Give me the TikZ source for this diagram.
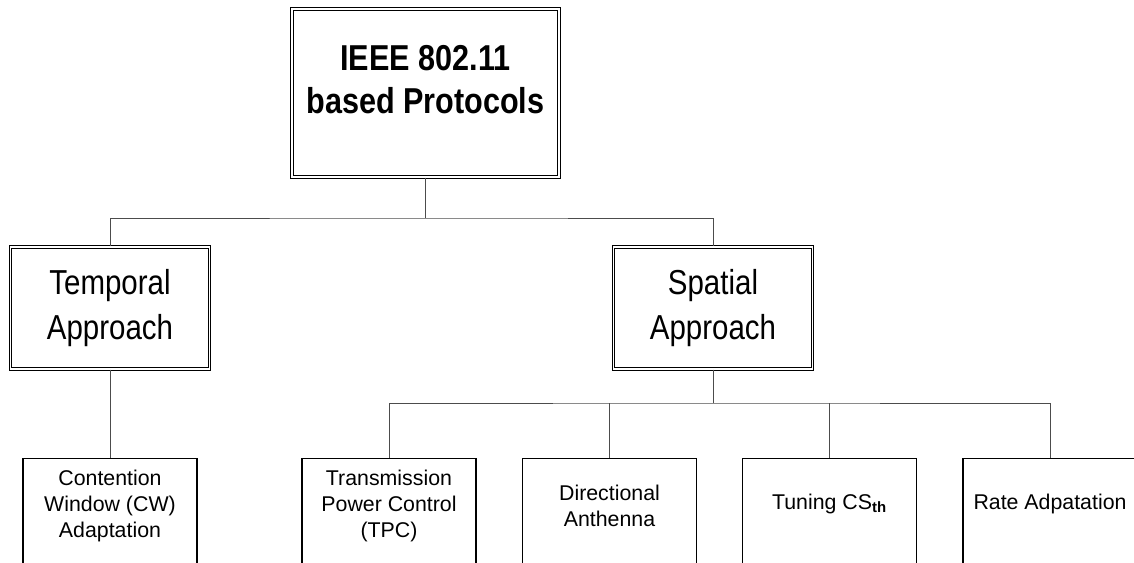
\documentclass[tikz,border=0pt]{standalone}
\usepackage{fontspec}
\setmainfont{Liberation Sans}
\newfontfamily\narrowfont[FakeStretch=0.85]{Liberation Sans}
\usepackage{tikz}
\usetikzlibrary{positioning}
\tikzset{
  dbox/.style={draw, line width=0.8pt, double=white, double distance=1pt, align=center},
  rootbox/.style={dbox, minimum width=200.25pt, minimum height=126pt, text depth=20pt, font=\narrowfont\bfseries\fontsize{27}{32}\selectfont},
  appbox/.style={dbox, minimum width=149.25pt, minimum height=91.5pt, font=\narrowfont\fontsize{26}{34}\selectfont},
  leafbox/.style={draw, line width=1pt, anchor=north, minimum width=130.5pt, minimum height=112.5pt},
  leaftxt/.style={align=center, font=\fontsize{16}{19.5}\selectfont},
  link/.style={draw=black!70, line width=0.6pt},
}

\begin{document}
\begin{tikzpicture}[x=0.75pt, y=-0.75pt]
\useasboundingbox (0,0) rectangle (1134,563);
\clip (0,0) rectangle (1134,563);
\node[rootbox] (top) at (425.5,93) {IEEE 802.11\\based Protocols};
\node[appbox] (tmp) at (110,308) {Temporal\\Approach};
\node[appbox] (spa) at (713,308) {Spatial\\Approach};
\node[leafbox] (cw) at (110,458) {};
\node[leafbox] (tpc) at (389,458) {};
\node[leafbox] (dir) at (609.5,458) {};
\node[leafbox] (tun) at (829.5,458) {};
\node[leafbox] (rate) at (1050,458) {};
\node[leaftxt] (cwt) at (110,506) {Contention\\Window (CW)\\Adaptation};
\node[leaftxt] (tpct) at (389,506) {Transmission\\Power Control\\(TPC)};
\node[leaftxt] (dirt) at (609.5,506) {Directional\\Anthenna};
\node[leaftxt] (tunt) at (829.5,504) {Tuning CS\textsubscript{\bfseries th}};
\node[leaftxt] (ratet) at (1050,504) {Rate Adpatation};
\coordinate (j1) at (425.5,218);
\coordinate (j2) at (713,403);
\draw[link] (top.south) -- (j1);
\draw[link] (tmp.north) |- (j1) -| (spa.north);
\draw[link] (tmp.south) -- (cw.north);
\draw[link] (spa.south) -- (j2);
\draw[link] (tpc.north) |- (j2) -| (rate.north);
\foreach \n in {dir,tun}
  \draw[link] (\n.north) -- (\n.north |- j2);
\end{tikzpicture}
\end{document}
